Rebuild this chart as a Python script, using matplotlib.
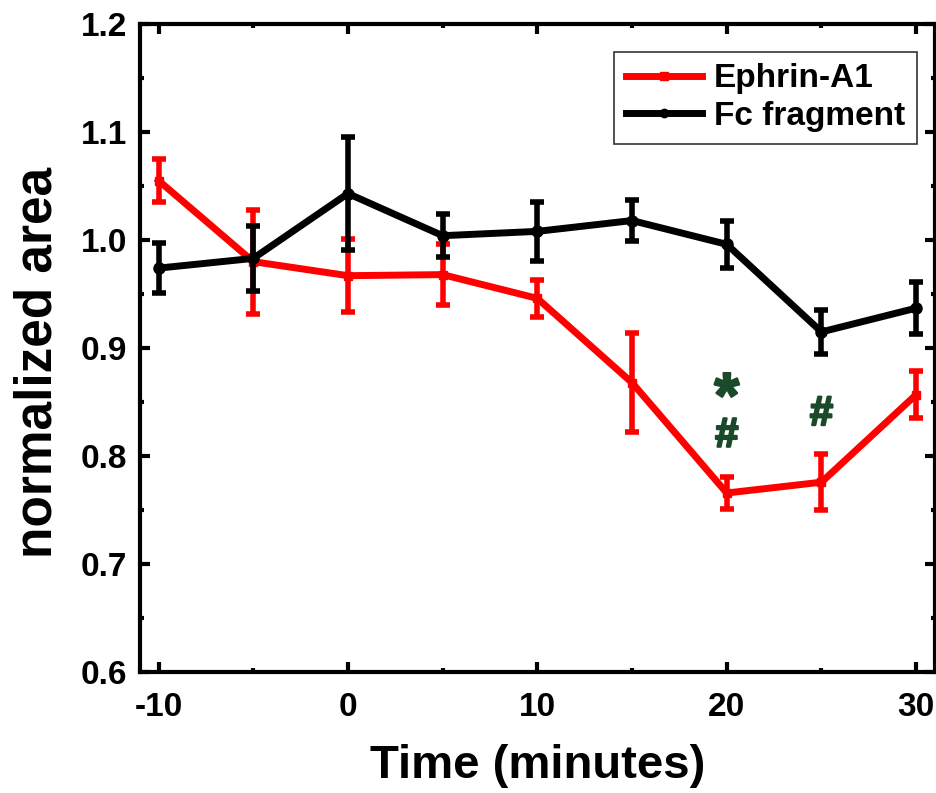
import numpy as np
import matplotlib
matplotlib.use('Agg')
import matplotlib.pyplot as plt
import matplotlib.patheffects as pe
from matplotlib.lines import Line2D
from matplotlib.ticker import MultipleLocator, FormatStrFormatter

# time points (minutes) and normalized area, mean +/- error
time_min = [-10, -5, 0, 5, 10, 15, 20, 25, 30]

ephrin_mean = [1.055, 0.980, 0.967, 0.968, 0.946, 0.868, 0.766, 0.776, 0.857]
ephrin_err = [0.020, 0.048, 0.034, 0.028, 0.017, 0.046, 0.015, 0.026, 0.022]

fc_mean = [0.974, 0.983, 1.043, 1.004, 1.008, 1.018, 0.996, 0.915, 0.937]
fc_err = [0.023, 0.030, 0.052, 0.020, 0.027, 0.019, 0.022, 0.020, 0.024]

# significance markers: (x, y, symbol)
sig_x = [20, 20, 25]
sig_y = [0.852, 0.819, 0.839]
sig_text = ['*', '#', '#']

plt.rcParams['font.family'] = 'sans-serif'
plt.rcParams['font.sans-serif'] = ['Liberation Sans', 'DejaVu Sans']
plt.rcParams['font.weight'] = 'bold'
plt.rcParams['axes.unicode_minus'] = False

fig = plt.figure(figsize=(9.37, 7.93), dpi=100)
ax = fig.add_axes([0.149, 0.152, 0.849, 0.818])

ax.errorbar(time_min, ephrin_mean, yerr=ephrin_err, color='#ff0000', linewidth=5,
            marker='s', markersize=6, elinewidth=4, capsize=5, capthick=4,
            zorder=2)
ax.errorbar(time_min, fc_mean, yerr=fc_err, color='black', linewidth=5,
            marker='o', markersize=8, elinewidth=4, capsize=5, capthick=4,
            zorder=3)

sig_color = '#1b4a2b'
for x, y, s in zip(sig_x, sig_y, sig_text):
    fs = 46 if s == '*' else 30
    ax.text(x, y, s, color=sig_color, fontsize=fs, fontweight='bold',
            ha='center', va='center', zorder=4,
            path_effects=[pe.withStroke(linewidth=1.6, foreground=sig_color)])

ax.set_xlim(-11, 31)
ax.set_ylim(0.6, 1.2)
ax.xaxis.set_major_locator(MultipleLocator(10))
ax.xaxis.set_minor_locator(MultipleLocator(5))
ax.yaxis.set_major_locator(MultipleLocator(0.1))
ax.yaxis.set_minor_locator(MultipleLocator(0.05))
ax.yaxis.set_major_formatter(FormatStrFormatter('%.1f'))

for sp in ax.spines.values():
    sp.set_linewidth(3)
ax.tick_params(which='both', direction='in', top=True, right=True, width=3,
               labelsize=24)
ax.tick_params(which='major', length=7)
ax.tick_params(which='minor', length=3)
ax.tick_params(axis='x', which='major', pad=14)
ax.tick_params(axis='y', which='major', pad=9)

ax.set_xlabel('Time (minutes)', fontsize=34, fontweight='bold', labelpad=15)
ax.set_ylabel('normalized area', fontsize=37, fontweight='bold')
ax.yaxis.set_label_coords(-0.097, 0.478)

# legend shows plain line + marker, without the error bars
handles = [Line2D([], [], color='#ff0000', linewidth=5, marker='s', markersize=6),
           Line2D([], [], color='black', linewidth=5, marker='o', markersize=6)]
leg = ax.legend(handles, ['Ephrin-A1', 'Fc fragment'], loc='upper right',
                bbox_to_anchor=(0.977, 0.957), fontsize=24,
                frameon=True, fancybox=False, edgecolor='black', handlelength=2.3,
                borderaxespad=0.0, handletextpad=0.35, labelspacing=0.2,
                borderpad=0.35)
leg.get_frame().set_linewidth(1.2)

fig.savefig('out.png', dpi=100)
